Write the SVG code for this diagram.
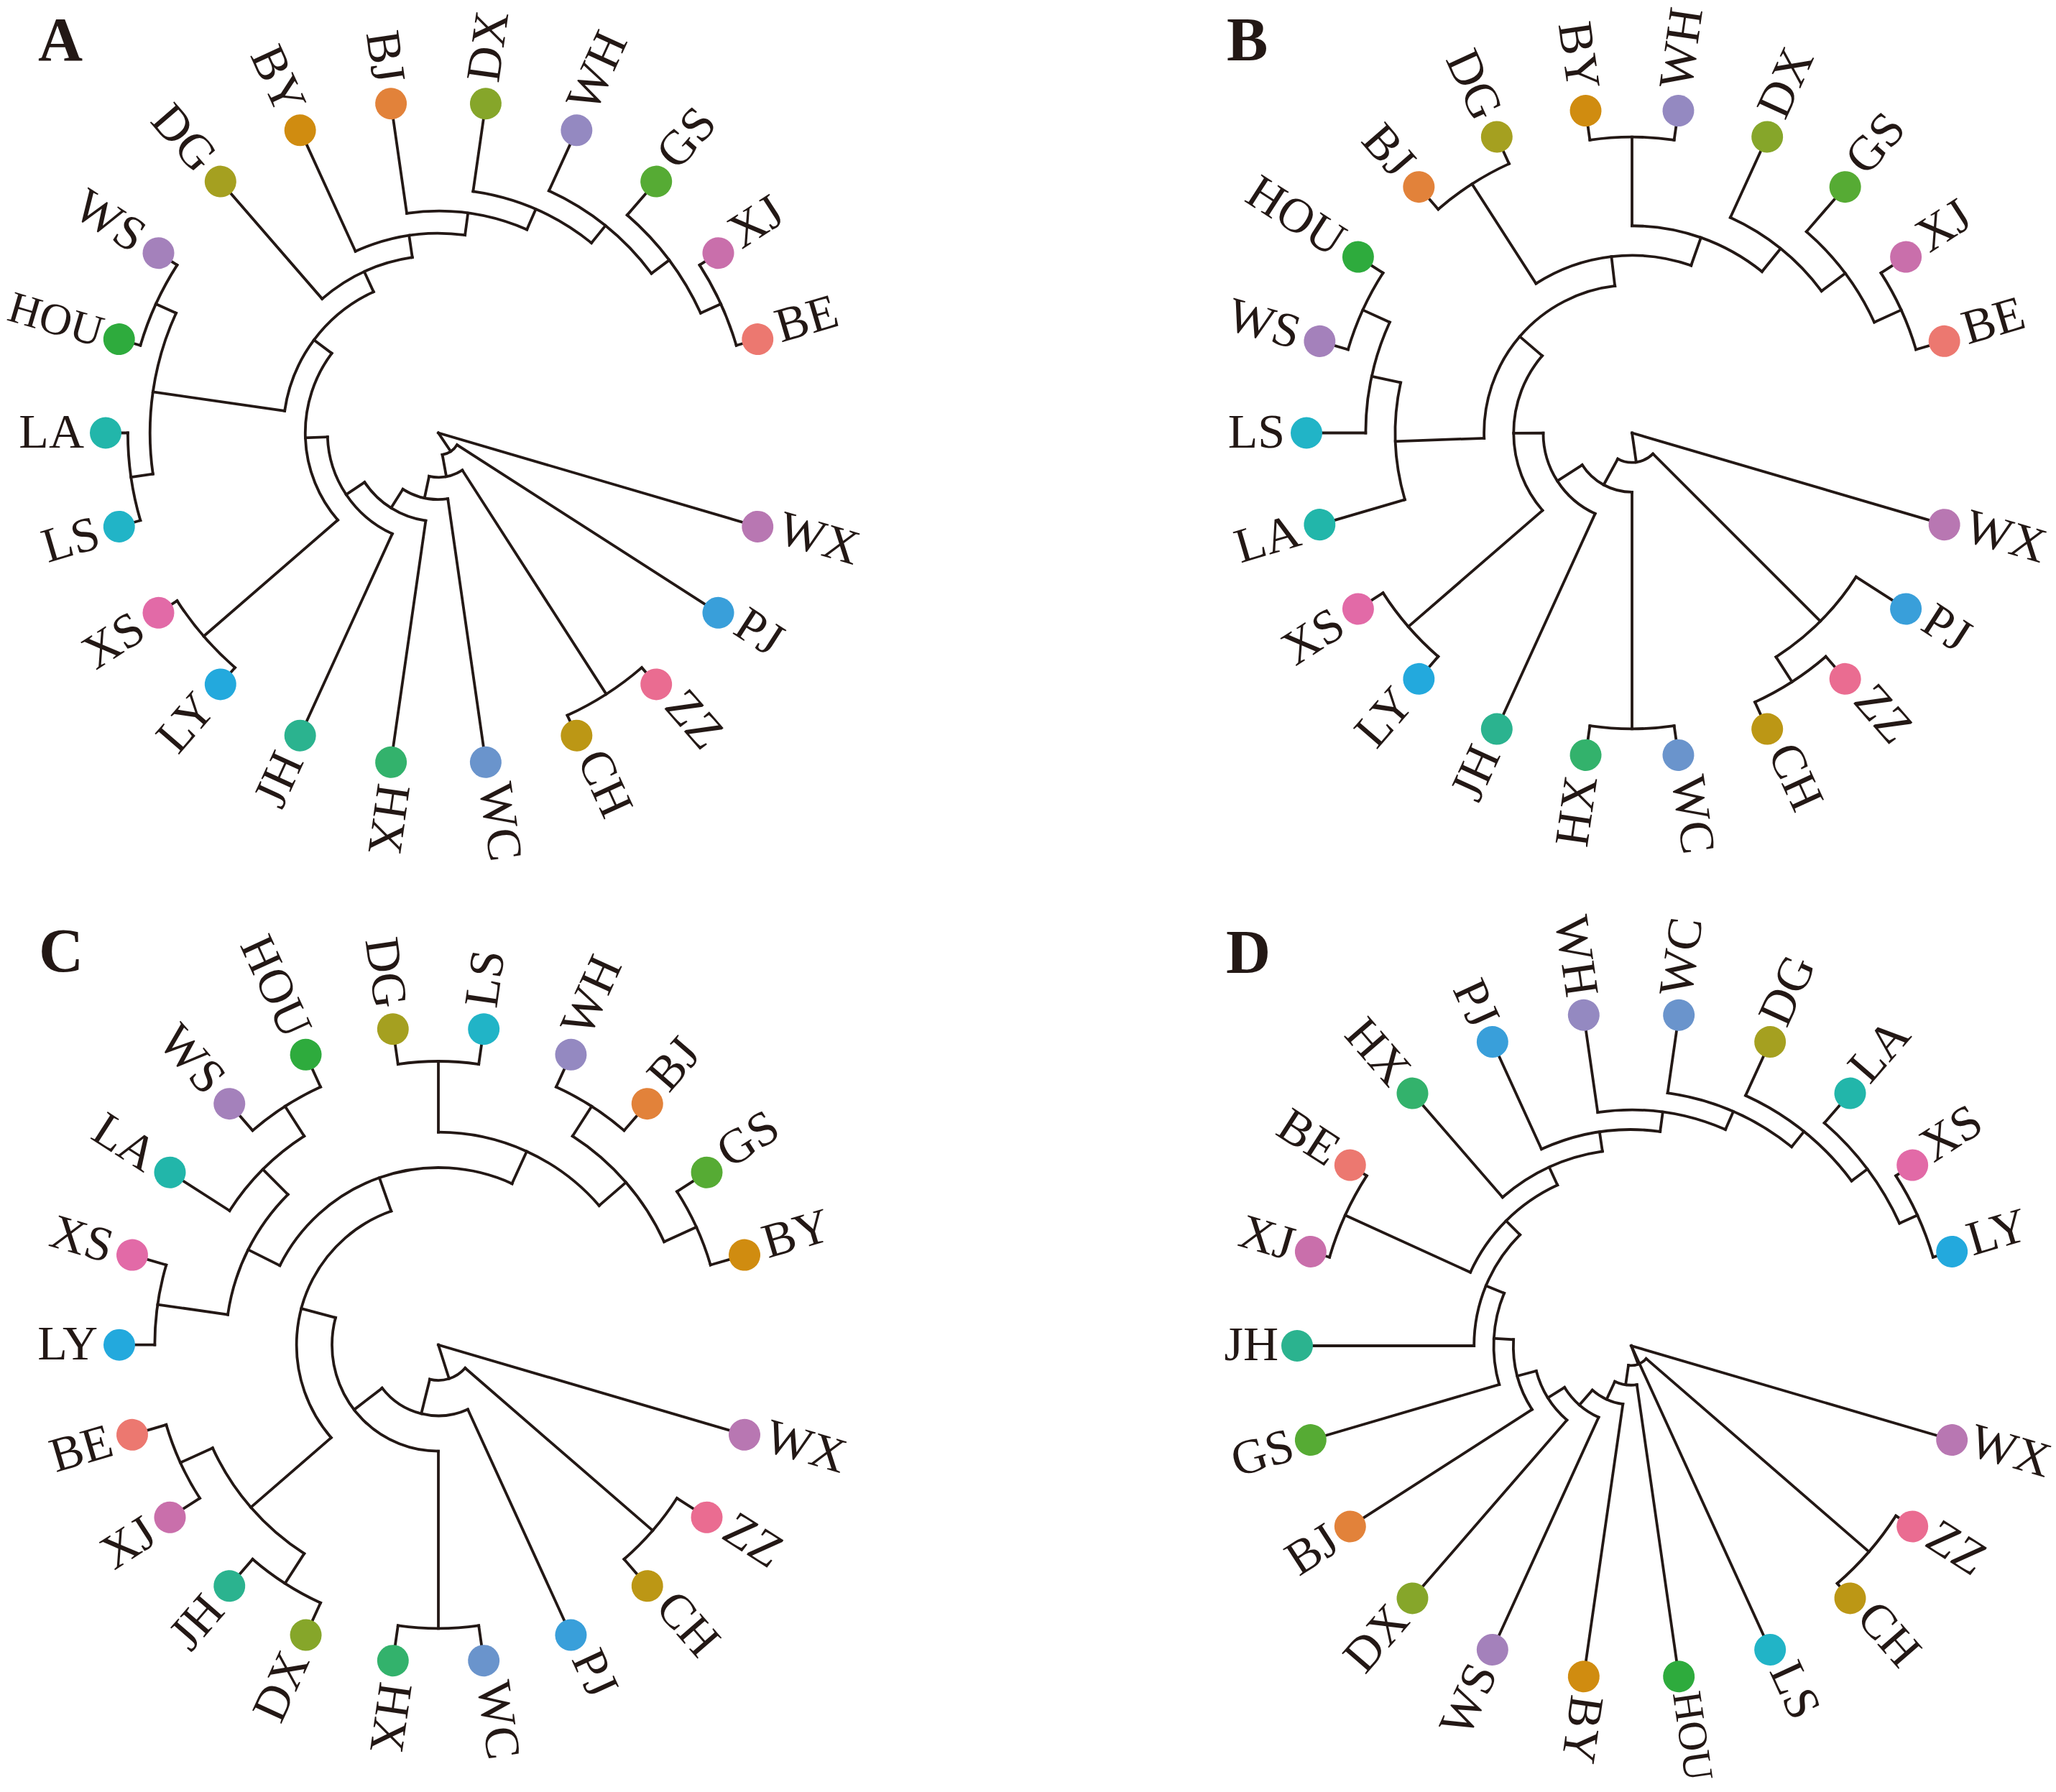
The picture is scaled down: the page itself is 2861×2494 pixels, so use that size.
<svg xmlns="http://www.w3.org/2000/svg" width="2861" height="2494" viewBox="0 0 2861 2494">
<style>
.edges line,.edges circle{fill:none;stroke:#231815;stroke-width:3.8;stroke-linecap:square}
.lbl{font-family:"Liberation Serif","Times New Roman",serif;font-size:68px;fill:#231815}
.e{text-anchor:end}
.ttl{font-family:"Liberation Serif","Times New Roman",serif;font-size:86px;font-weight:bold;fill:#231815}
.cBE{fill:#EC7870}.cXJ{fill:#C96FAB}.cGS{fill:#56AB34}.cWH{fill:#9489C1}.cDX{fill:#86A62A}.cBJ{fill:#E2823A}.cBY{fill:#D08C10}.cDG{fill:#A5A020}.cWS{fill:#A481BB}.cHOU{fill:#2EAB3D}.cLA{fill:#22B6AA}.cLS{fill:#21B4C7}.cXS{fill:#E26AA7}.cLY{fill:#23A9DD}.cJH{fill:#2BB38F}.cHX{fill:#33B26C}.cWC{fill:#6A94CC}.cCH{fill:#BC9715}.cZZ{fill:#EA6C91}.cPJ{fill:#399FDA}.cWX{fill:#B877B2}
</style>
<rect width="2861" height="2494" fill="#ffffff"/>
<text class="ttl" x="53" y="84">A</text>
<text class="ttl" x="1707" y="84">B</text>
<text class="ttl" x="54" y="1352">C</text>
<text class="ttl" x="1706" y="1354">D</text>

<g id="panel-A" transform="translate(610,602.5)">
<g id="A-connectors" class="edges">
<line x1="432.13" x2="463" transform="rotate(-16.364)"/>
<line x1="432.13" x2="463" transform="rotate(-32.727)"/>
<line x1="401.27" x2="432.13" transform="rotate(-24.545)"/>
<line x1="401.27" x2="463" transform="rotate(-49.091)"/>
<line x1="370.4" x2="401.27" transform="rotate(-36.818)"/>
<line x1="370.4" x2="463" transform="rotate(-65.455)"/>
<line x1="339.53" x2="370.4" transform="rotate(-51.136)"/>
<line x1="339.53" x2="463" transform="rotate(-81.818)"/>
<line x1="308.67" x2="339.53" transform="rotate(-66.477)"/>
<line x1="308.67" x2="463" transform="rotate(-98.182)"/>
<line x1="277.8" x2="308.67" transform="rotate(-82.330)"/>
<line x1="277.8" x2="463" transform="rotate(-114.545)"/>
<line x1="246.93" x2="277.8" transform="rotate(-98.437)"/>
<line x1="246.93" x2="463" transform="rotate(-130.909)"/>
<line x1="216.07" x2="246.93" transform="rotate(-114.673)"/>
<line x1="432.13" x2="463" transform="rotate(-147.273)"/>
<line x1="432.13" x2="463" transform="rotate(-163.636)"/>
<line x1="432.13" x2="463" transform="rotate(-180)"/>
<line x1="432.13" x2="463" transform="rotate(-196.364)"/>
<line x1="401.27" x2="432.13" transform="rotate(-155.455)"/>
<line x1="401.27" x2="432.13" transform="rotate(-188.182)"/>
<line x1="216.07" x2="401.27" transform="rotate(-171.818)"/>
<line x1="185.2" x2="216.07" transform="rotate(-143.245)"/>
<line x1="432.13" x2="463" transform="rotate(-212.727)"/>
<line x1="432.13" x2="463" transform="rotate(-229.091)"/>
<line x1="185.2" x2="432.13" transform="rotate(-220.909)"/>
<line x1="154.33" x2="185.2" transform="rotate(-182.077)"/>
<line x1="154.33" x2="463" transform="rotate(-245.455)"/>
<line x1="123.47" x2="154.33" transform="rotate(-213.766)"/>
<line x1="123.47" x2="463" transform="rotate(-261.818)"/>
<line x1="92.6" x2="123.47" transform="rotate(-237.792)"/>
<line x1="92.6" x2="463" transform="rotate(-278.182)"/>
<line x1="61.73" x2="92.6" transform="rotate(-257.987)"/>
<line x1="432.13" x2="463" transform="rotate(-294.545)"/>
<line x1="432.13" x2="463" transform="rotate(-310.909)"/>
<line x1="61.73" x2="432.13" transform="rotate(-302.727)"/>
<line x1="30.87" x2="61.73" transform="rotate(-280.357)"/>
<line x1="30.87" x2="463" transform="rotate(-327.273)"/>
<line x1="0" x2="30.87" transform="rotate(-303.815)"/>
<line x1="0" x2="463" transform="rotate(-343.636)"/>
<circle r="432.13" stroke-dasharray="123.42 9999" transform="rotate(-32.727)"/>
<circle r="401.27" stroke-dasharray="171.91 9999" transform="rotate(-49.091)"/>
<circle r="370.4" stroke-dasharray="185.13 9999" transform="rotate(-65.455)"/>
<circle r="339.53" stroke-dasharray="181.82 9999" transform="rotate(-81.818)"/>
<circle r="308.67" stroke-dasharray="170.81 9999" transform="rotate(-98.182)"/>
<circle r="277.8" stroke-dasharray="156.20 9999" transform="rotate(-114.545)"/>
<circle r="246.93" stroke-dasharray="139.94 9999" transform="rotate(-130.909)"/>
<circle r="432.13" stroke-dasharray="123.42 9999" transform="rotate(-163.636)"/>
<circle r="432.13" stroke-dasharray="123.42 9999" transform="rotate(-196.364)"/>
<circle r="401.27" stroke-dasharray="229.20 9999" transform="rotate(-188.182)"/>
<circle r="216.07" stroke-dasharray="215.50 9999" transform="rotate(-171.818)"/>
<circle r="432.13" stroke-dasharray="123.42 9999" transform="rotate(-229.091)"/>
<circle r="185.2" stroke-dasharray="251.04 9999" transform="rotate(-220.909)"/>
<circle r="154.33" stroke-dasharray="170.71 9999" transform="rotate(-245.455)"/>
<circle r="123.47" stroke-dasharray="103.55 9999" transform="rotate(-261.818)"/>
<circle r="92.6" stroke-dasharray="65.28 9999" transform="rotate(-278.182)"/>
<circle r="432.13" stroke-dasharray="123.42 9999" transform="rotate(-310.909)"/>
<circle r="61.73" stroke-dasharray="48.20 9999" transform="rotate(-302.727)"/>
<circle r="30.87" stroke-dasharray="25.28 9999" transform="rotate(-327.273)"/>
</g>
<g id="A-tips">
<g id="A-BE" transform="rotate(-16.364)"><circle class="cBE" cx="463" r="22"/><text class="lbl" x="493" dy="0.2em">BE</text></g>
<g id="A-XJ" transform="rotate(-32.727)"><circle class="cXJ" cx="463" r="22"/><text class="lbl" x="493" dy="0.2em">XJ</text></g>
<g id="A-GS" transform="rotate(-49.091)"><circle class="cGS" cx="463" r="22"/><text class="lbl" x="493" dy="0.2em">GS</text></g>
<g id="A-WH" transform="rotate(-65.455)"><circle class="cWH" cx="463" r="22"/><text class="lbl" x="493" dy="0.2em">WH</text></g>
<g id="A-DX" transform="rotate(-81.818)"><circle class="cDX" cx="463" r="22"/><text class="lbl" x="493" dy="0.2em">DX</text></g>
<g id="A-BJ" transform="rotate(-98.182)"><circle class="cBJ" cx="463" r="22"/><text class="lbl e" x="493" dy="0.3em" transform="rotate(180 493 0)">BJ</text></g>
<g id="A-BY" transform="rotate(-114.545)"><circle class="cBY" cx="463" r="22"/><text class="lbl e" x="493" dy="0.3em" transform="rotate(180 493 0)">BY</text></g>
<g id="A-DG" transform="rotate(-130.909)"><circle class="cDG" cx="463" r="22"/><text class="lbl e" x="493" dy="0.3em" transform="rotate(180 493 0)">DG</text></g>
<g id="A-WS" transform="rotate(-147.273)"><circle class="cWS" cx="463" r="22"/><text class="lbl e" x="493" dy="0.3em" transform="rotate(180 493 0)">WS</text></g>
<g id="A-HOU" transform="rotate(-163.636)"><circle class="cHOU" cx="463" r="22"/><text class="lbl e" x="488" dy="0.3em" style="font-size:62px" transform="rotate(180 488 0)">HOU</text></g>
<g id="A-LA" transform="rotate(-180)"><circle class="cLA" cx="463" r="22"/><text class="lbl e" x="493" dy="0.3em" transform="rotate(180 493 0)">LA</text></g>
<g id="A-LS" transform="rotate(-196.364)"><circle class="cLS" cx="463" r="22"/><text class="lbl e" x="493" dy="0.3em" transform="rotate(180 493 0)">LS</text></g>
<g id="A-XS" transform="rotate(-212.727)"><circle class="cXS" cx="463" r="22"/><text class="lbl e" x="493" dy="0.3em" transform="rotate(180 493 0)">XS</text></g>
<g id="A-LY" transform="rotate(-229.091)"><circle class="cLY" cx="463" r="22"/><text class="lbl e" x="493" dy="0.3em" transform="rotate(180 493 0)">LY</text></g>
<g id="A-JH" transform="rotate(-245.455)"><circle class="cJH" cx="463" r="22"/><text class="lbl e" x="493" dy="0.3em" transform="rotate(180 493 0)">JH</text></g>
<g id="A-HX" transform="rotate(-261.818)"><circle class="cHX" cx="463" r="22"/><text class="lbl" x="493" dy="0.2em">HX</text></g>
<g id="A-WC" transform="rotate(-278.182)"><circle class="cWC" cx="463" r="22"/><text class="lbl" x="493" dy="0.2em">WC</text></g>
<g id="A-CH" transform="rotate(-294.545)"><circle class="cCH" cx="463" r="22"/><text class="lbl" x="493" dy="0.2em">CH</text></g>
<g id="A-ZZ" transform="rotate(-310.909)"><circle class="cZZ" cx="463" r="22"/><text class="lbl" x="493" dy="0.2em">ZZ</text></g>
<g id="A-PJ" transform="rotate(-327.273)"><circle class="cPJ" cx="463" r="22"/><text class="lbl" x="493" dy="0.2em">PJ</text></g>
<g id="A-WX" transform="rotate(-343.636)"><circle class="cWX" cx="463" r="22"/><text class="lbl" x="493" dy="0.2em">WX</text></g>
</g>
</g>

<g id="panel-B" transform="translate(2271,602.5)">
<g id="B-connectors" class="edges">
<line x1="411.82" x2="453" transform="rotate(-16.364)"/>
<line x1="411.82" x2="453" transform="rotate(-32.727)"/>
<line x1="370.64" x2="411.82" transform="rotate(-24.545)"/>
<line x1="370.64" x2="453" transform="rotate(-49.091)"/>
<line x1="329.45" x2="370.64" transform="rotate(-36.818)"/>
<line x1="329.45" x2="453" transform="rotate(-65.455)"/>
<line x1="288.27" x2="329.45" transform="rotate(-51.136)"/>
<line x1="411.82" x2="453" transform="rotate(-81.818)"/>
<line x1="411.82" x2="453" transform="rotate(-98.182)"/>
<line x1="288.27" x2="411.82" transform="rotate(-90)"/>
<line x1="247.09" x2="288.27" transform="rotate(-70.568)"/>
<line x1="411.82" x2="453" transform="rotate(-114.545)"/>
<line x1="411.82" x2="453" transform="rotate(-130.909)"/>
<line x1="247.09" x2="411.82" transform="rotate(-122.727)"/>
<line x1="205.91" x2="247.09" transform="rotate(-96.648)"/>
<line x1="411.82" x2="453" transform="rotate(-147.273)"/>
<line x1="411.82" x2="453" transform="rotate(-163.636)"/>
<line x1="370.64" x2="411.82" transform="rotate(-155.455)"/>
<line x1="370.64" x2="453" transform="rotate(-180)"/>
<line x1="329.45" x2="370.64" transform="rotate(-167.727)"/>
<line x1="329.45" x2="453" transform="rotate(-196.364)"/>
<line x1="205.91" x2="329.45" transform="rotate(-182.045)"/>
<line x1="164.73" x2="205.91" transform="rotate(-139.347)"/>
<line x1="411.82" x2="453" transform="rotate(-212.727)"/>
<line x1="411.82" x2="453" transform="rotate(-229.091)"/>
<line x1="164.73" x2="411.82" transform="rotate(-220.909)"/>
<line x1="123.55" x2="164.73" transform="rotate(-180.128)"/>
<line x1="123.55" x2="453" transform="rotate(-245.455)"/>
<line x1="82.36" x2="123.55" transform="rotate(-212.791)"/>
<line x1="411.82" x2="453" transform="rotate(-261.818)"/>
<line x1="411.82" x2="453" transform="rotate(-278.182)"/>
<line x1="82.36" x2="411.82" transform="rotate(-270)"/>
<line x1="41.18" x2="82.36" transform="rotate(-241.396)"/>
<line x1="411.82" x2="453" transform="rotate(-294.545)"/>
<line x1="411.82" x2="453" transform="rotate(-310.909)"/>
<line x1="370.64" x2="411.82" transform="rotate(-302.727)"/>
<line x1="370.64" x2="453" transform="rotate(-327.273)"/>
<line x1="41.18" x2="370.64" transform="rotate(-315)"/>
<line x1="0" x2="41.18" transform="rotate(-278.198)"/>
<line x1="0" x2="453" transform="rotate(-343.636)"/>
<circle r="411.82" stroke-dasharray="117.62 9999" transform="rotate(-32.727)"/>
<circle r="370.64" stroke-dasharray="158.78 9999" transform="rotate(-49.091)"/>
<circle r="329.45" stroke-dasharray="164.66 9999" transform="rotate(-65.455)"/>
<circle r="411.82" stroke-dasharray="117.62 9999" transform="rotate(-98.182)"/>
<circle r="288.27" stroke-dasharray="195.53 9999" transform="rotate(-90)"/>
<circle r="411.82" stroke-dasharray="117.62 9999" transform="rotate(-130.909)"/>
<circle r="247.09" stroke-dasharray="224.94 9999" transform="rotate(-122.727)"/>
<circle r="411.82" stroke-dasharray="117.62 9999" transform="rotate(-163.636)"/>
<circle r="370.64" stroke-dasharray="158.78 9999" transform="rotate(-180)"/>
<circle r="329.45" stroke-dasharray="164.66 9999" transform="rotate(-196.364)"/>
<circle r="205.91" stroke-dasharray="306.90 9999" transform="rotate(-182.045)"/>
<circle r="411.82" stroke-dasharray="117.62 9999" transform="rotate(-229.091)"/>
<circle r="164.73" stroke-dasharray="234.50 9999" transform="rotate(-220.909)"/>
<circle r="123.55" stroke-dasharray="140.87 9999" transform="rotate(-245.455)"/>
<circle r="411.82" stroke-dasharray="117.62 9999" transform="rotate(-278.182)"/>
<circle r="82.36" stroke-dasharray="82.24 9999" transform="rotate(-270)"/>
<circle r="411.82" stroke-dasharray="117.62 9999" transform="rotate(-310.909)"/>
<circle r="370.64" stroke-dasharray="158.78 9999" transform="rotate(-327.273)"/>
<circle r="41.18" stroke-dasharray="52.90 9999" transform="rotate(-315)"/>
</g>
<g id="B-tips">
<g id="B-BE" transform="rotate(-16.364)"><circle class="cBE" cx="453" r="22"/><text class="lbl" x="483" dy="0.2em">BE</text></g>
<g id="B-XJ" transform="rotate(-32.727)"><circle class="cXJ" cx="453" r="22"/><text class="lbl" x="483" dy="0.2em">XJ</text></g>
<g id="B-GS" transform="rotate(-49.091)"><circle class="cGS" cx="453" r="22"/><text class="lbl" x="483" dy="0.2em">GS</text></g>
<g id="B-DX" transform="rotate(-65.455)"><circle class="cDX" cx="453" r="22"/><text class="lbl" x="483" dy="0.2em">DX</text></g>
<g id="B-WH" transform="rotate(-81.818)"><circle class="cWH" cx="453" r="22"/><text class="lbl" x="483" dy="0.2em">WH</text></g>
<g id="B-BY" transform="rotate(-98.182)"><circle class="cBY" cx="453" r="22"/><text class="lbl e" x="483" dy="0.3em" transform="rotate(180 483 0)">BY</text></g>
<g id="B-DG" transform="rotate(-114.545)"><circle class="cDG" cx="453" r="22"/><text class="lbl e" x="483" dy="0.3em" transform="rotate(180 483 0)">DG</text></g>
<g id="B-BJ" transform="rotate(-130.909)"><circle class="cBJ" cx="453" r="22"/><text class="lbl e" x="483" dy="0.3em" transform="rotate(180 483 0)">BJ</text></g>
<g id="B-HOU" transform="rotate(-147.273)"><circle class="cHOU" cx="453" r="22"/><text class="lbl e" x="483" dy="0.3em" transform="rotate(180 483 0)">HOU</text></g>
<g id="B-WS" transform="rotate(-163.636)"><circle class="cWS" cx="453" r="22"/><text class="lbl e" x="483" dy="0.3em" transform="rotate(180 483 0)">WS</text></g>
<g id="B-LS" transform="rotate(-180)"><circle class="cLS" cx="453" r="22"/><text class="lbl e" x="483" dy="0.3em" transform="rotate(180 483 0)">LS</text></g>
<g id="B-LA" transform="rotate(-196.364)"><circle class="cLA" cx="453" r="22"/><text class="lbl e" x="483" dy="0.3em" transform="rotate(180 483 0)">LA</text></g>
<g id="B-XS" transform="rotate(-212.727)"><circle class="cXS" cx="453" r="22"/><text class="lbl e" x="483" dy="0.3em" transform="rotate(180 483 0)">XS</text></g>
<g id="B-LY" transform="rotate(-229.091)"><circle class="cLY" cx="453" r="22"/><text class="lbl e" x="483" dy="0.3em" transform="rotate(180 483 0)">LY</text></g>
<g id="B-JH" transform="rotate(-245.455)"><circle class="cJH" cx="453" r="22"/><text class="lbl e" x="483" dy="0.3em" transform="rotate(180 483 0)">JH</text></g>
<g id="B-HX" transform="rotate(-261.818)"><circle class="cHX" cx="453" r="22"/><text class="lbl e" x="483" dy="0.3em" transform="rotate(180 483 0)">HX</text></g>
<g id="B-WC" transform="rotate(-278.182)"><circle class="cWC" cx="453" r="22"/><text class="lbl" x="483" dy="0.2em">WC</text></g>
<g id="B-CH" transform="rotate(-294.545)"><circle class="cCH" cx="453" r="22"/><text class="lbl" x="483" dy="0.2em">CH</text></g>
<g id="B-ZZ" transform="rotate(-310.909)"><circle class="cZZ" cx="453" r="22"/><text class="lbl" x="483" dy="0.2em">ZZ</text></g>
<g id="B-PJ" transform="rotate(-327.273)"><circle class="cPJ" cx="453" r="22"/><text class="lbl" x="483" dy="0.2em">PJ</text></g>
<g id="B-WX" transform="rotate(-343.636)"><circle class="cWX" cx="453" r="22"/><text class="lbl" x="483" dy="0.2em">WX</text></g>
</g>
</g>

<g id="panel-C" transform="translate(610,1871.7)">
<g id="C-connectors" class="edges">
<line x1="394.67" x2="444" transform="rotate(-16.364)"/>
<line x1="394.67" x2="444" transform="rotate(-32.727)"/>
<line x1="345.33" x2="394.67" transform="rotate(-24.545)"/>
<line x1="394.67" x2="444" transform="rotate(-49.091)"/>
<line x1="394.67" x2="444" transform="rotate(-65.455)"/>
<line x1="345.33" x2="394.67" transform="rotate(-57.273)"/>
<line x1="296" x2="345.33" transform="rotate(-40.909)"/>
<line x1="394.67" x2="444" transform="rotate(-81.818)"/>
<line x1="394.67" x2="444" transform="rotate(-98.182)"/>
<line x1="296" x2="394.67" transform="rotate(-90)"/>
<line x1="246.67" x2="296" transform="rotate(-65.455)"/>
<line x1="394.67" x2="444" transform="rotate(-114.545)"/>
<line x1="394.67" x2="444" transform="rotate(-130.909)"/>
<line x1="345.33" x2="394.67" transform="rotate(-122.727)"/>
<line x1="345.33" x2="444" transform="rotate(-147.273)"/>
<line x1="296" x2="345.33" transform="rotate(-135)"/>
<line x1="394.67" x2="444" transform="rotate(-163.636)"/>
<line x1="394.67" x2="444" transform="rotate(-180)"/>
<line x1="296" x2="394.67" transform="rotate(-171.818)"/>
<line x1="246.67" x2="296" transform="rotate(-153.409)"/>
<line x1="197.33" x2="246.67" transform="rotate(-109.432)"/>
<line x1="394.67" x2="444" transform="rotate(-196.364)"/>
<line x1="394.67" x2="444" transform="rotate(-212.727)"/>
<line x1="345.33" x2="394.67" transform="rotate(-204.545)"/>
<line x1="394.67" x2="444" transform="rotate(-229.091)"/>
<line x1="394.67" x2="444" transform="rotate(-245.455)"/>
<line x1="345.33" x2="394.67" transform="rotate(-237.273)"/>
<line x1="197.33" x2="345.33" transform="rotate(-220.909)"/>
<line x1="148" x2="197.33" transform="rotate(-165.170)"/>
<line x1="394.67" x2="444" transform="rotate(-261.818)"/>
<line x1="394.67" x2="444" transform="rotate(-278.182)"/>
<line x1="148" x2="394.67" transform="rotate(-270)"/>
<line x1="98.67" x2="148" transform="rotate(-217.585)"/>
<line x1="98.67" x2="444" transform="rotate(-294.545)"/>
<line x1="49.33" x2="98.67" transform="rotate(-256.065)"/>
<line x1="394.67" x2="444" transform="rotate(-310.909)"/>
<line x1="394.67" x2="444" transform="rotate(-327.273)"/>
<line x1="49.33" x2="394.67" transform="rotate(-319.091)"/>
<line x1="0" x2="49.33" transform="rotate(-287.578)"/>
<line x1="0" x2="444" transform="rotate(-343.636)"/>
<circle r="394.67" stroke-dasharray="112.72 9999" transform="rotate(-32.727)"/>
<circle r="394.67" stroke-dasharray="112.72 9999" transform="rotate(-65.455)"/>
<circle r="345.33" stroke-dasharray="197.26 9999" transform="rotate(-57.273)"/>
<circle r="394.67" stroke-dasharray="112.72 9999" transform="rotate(-98.182)"/>
<circle r="296" stroke-dasharray="253.61 9999" transform="rotate(-90)"/>
<circle r="394.67" stroke-dasharray="112.72 9999" transform="rotate(-130.909)"/>
<circle r="345.33" stroke-dasharray="147.94 9999" transform="rotate(-147.273)"/>
<circle r="394.67" stroke-dasharray="112.72 9999" transform="rotate(-180)"/>
<circle r="296" stroke-dasharray="190.21 9999" transform="rotate(-171.818)"/>
<circle r="246.67" stroke-dasharray="378.66 9999" transform="rotate(-153.409)"/>
<circle r="394.67" stroke-dasharray="112.72 9999" transform="rotate(-212.727)"/>
<circle r="394.67" stroke-dasharray="112.72 9999" transform="rotate(-245.455)"/>
<circle r="345.33" stroke-dasharray="197.26 9999" transform="rotate(-237.273)"/>
<circle r="197.33" stroke-dasharray="383.93 9999" transform="rotate(-220.909)"/>
<circle r="394.67" stroke-dasharray="112.72 9999" transform="rotate(-278.182)"/>
<circle r="148" stroke-dasharray="270.79 9999" transform="rotate(-270)"/>
<circle r="98.67" stroke-dasharray="132.53 9999" transform="rotate(-294.545)"/>
<circle r="394.67" stroke-dasharray="112.72 9999" transform="rotate(-327.273)"/>
<circle r="49.33" stroke-dasharray="54.27 9999" transform="rotate(-319.091)"/>
</g>
<g id="C-tips">
<g id="C-BY" transform="rotate(-16.364)"><circle class="cBY" cx="444" r="22"/><text class="lbl" x="474" dy="0.2em">BY</text></g>
<g id="C-GS" transform="rotate(-32.727)"><circle class="cGS" cx="444" r="22"/><text class="lbl" x="474" dy="0.2em">GS</text></g>
<g id="C-BJ" transform="rotate(-49.091)"><circle class="cBJ" cx="444" r="22"/><text class="lbl" x="474" dy="0.2em">BJ</text></g>
<g id="C-WH" transform="rotate(-65.455)"><circle class="cWH" cx="444" r="22"/><text class="lbl" x="474" dy="0.2em">WH</text></g>
<g id="C-LS" transform="rotate(-81.818)"><circle class="cLS" cx="444" r="22"/><text class="lbl" x="474" dy="0.2em">LS</text></g>
<g id="C-DG" transform="rotate(-98.182)"><circle class="cDG" cx="444" r="22"/><text class="lbl e" x="474" dy="0.3em" transform="rotate(180 474 0)">DG</text></g>
<g id="C-HOU" transform="rotate(-114.545)"><circle class="cHOU" cx="444" r="22"/><text class="lbl e" x="474" dy="0.3em" transform="rotate(180 474 0)">HOU</text></g>
<g id="C-WS" transform="rotate(-130.909)"><circle class="cWS" cx="444" r="22"/><text class="lbl e" x="474" dy="0.3em" transform="rotate(180 474 0)">WS</text></g>
<g id="C-LA" transform="rotate(-147.273)"><circle class="cLA" cx="444" r="22"/><text class="lbl e" x="474" dy="0.3em" transform="rotate(180 474 0)">LA</text></g>
<g id="C-XS" transform="rotate(-163.636)"><circle class="cXS" cx="444" r="22"/><text class="lbl e" x="474" dy="0.3em" transform="rotate(180 474 0)">XS</text></g>
<g id="C-LY" transform="rotate(-180)"><circle class="cLY" cx="444" r="22"/><text class="lbl e" x="474" dy="0.3em" transform="rotate(180 474 0)">LY</text></g>
<g id="C-BE" transform="rotate(-196.364)"><circle class="cBE" cx="444" r="22"/><text class="lbl e" x="474" dy="0.3em" transform="rotate(180 474 0)">BE</text></g>
<g id="C-XJ" transform="rotate(-212.727)"><circle class="cXJ" cx="444" r="22"/><text class="lbl e" x="474" dy="0.3em" transform="rotate(180 474 0)">XJ</text></g>
<g id="C-JH" transform="rotate(-229.091)"><circle class="cJH" cx="444" r="22"/><text class="lbl e" x="474" dy="0.3em" transform="rotate(180 474 0)">JH</text></g>
<g id="C-DX" transform="rotate(-245.455)"><circle class="cDX" cx="444" r="22"/><text class="lbl e" x="474" dy="0.3em" transform="rotate(180 474 0)">DX</text></g>
<g id="C-HX" transform="rotate(-261.818)"><circle class="cHX" cx="444" r="22"/><text class="lbl" x="474" dy="0.2em">HX</text></g>
<g id="C-WC" transform="rotate(-278.182)"><circle class="cWC" cx="444" r="22"/><text class="lbl" x="474" dy="0.2em">WC</text></g>
<g id="C-PJ" transform="rotate(-294.545)"><circle class="cPJ" cx="444" r="22"/><text class="lbl" x="474" dy="0.2em">PJ</text></g>
<g id="C-CH" transform="rotate(-310.909)"><circle class="cCH" cx="444" r="22"/><text class="lbl" x="474" dy="0.2em">CH</text></g>
<g id="C-ZZ" transform="rotate(-327.273)"><circle class="cZZ" cx="444" r="22"/><text class="lbl" x="474" dy="0.2em">ZZ</text></g>
<g id="C-WX" transform="rotate(-343.636)"><circle class="cWX" cx="444" r="22"/><text class="lbl" x="474" dy="0.2em">WX</text></g>
</g>
</g>

<g id="panel-D" transform="translate(2270,1873)">
<g id="D-connectors" class="edges">
<line x1="437.65" x2="465" transform="rotate(-16.364)"/>
<line x1="437.65" x2="465" transform="rotate(-32.727)"/>
<line x1="410.29" x2="437.65" transform="rotate(-24.545)"/>
<line x1="410.29" x2="465" transform="rotate(-49.091)"/>
<line x1="382.94" x2="410.29" transform="rotate(-36.818)"/>
<line x1="382.94" x2="465" transform="rotate(-65.455)"/>
<line x1="355.59" x2="382.94" transform="rotate(-51.136)"/>
<line x1="355.59" x2="465" transform="rotate(-81.818)"/>
<line x1="328.24" x2="355.59" transform="rotate(-66.477)"/>
<line x1="328.24" x2="465" transform="rotate(-98.182)"/>
<line x1="300.88" x2="328.24" transform="rotate(-82.330)"/>
<line x1="300.88" x2="465" transform="rotate(-114.545)"/>
<line x1="273.53" x2="300.88" transform="rotate(-98.437)"/>
<line x1="273.53" x2="465" transform="rotate(-130.909)"/>
<line x1="246.18" x2="273.53" transform="rotate(-114.673)"/>
<line x1="437.65" x2="465" transform="rotate(-147.273)"/>
<line x1="437.65" x2="465" transform="rotate(-163.636)"/>
<line x1="246.18" x2="437.65" transform="rotate(-155.455)"/>
<line x1="218.82" x2="246.18" transform="rotate(-135.064)"/>
<line x1="218.82" x2="465" transform="rotate(-180)"/>
<line x1="191.47" x2="218.82" transform="rotate(-157.532)"/>
<line x1="191.47" x2="465" transform="rotate(-196.364)"/>
<line x1="164.12" x2="191.47" transform="rotate(-176.948)"/>
<line x1="164.12" x2="465" transform="rotate(-212.727)"/>
<line x1="136.76" x2="164.12" transform="rotate(-194.838)"/>
<line x1="136.76" x2="465" transform="rotate(-229.091)"/>
<line x1="109.41" x2="136.76" transform="rotate(-211.964)"/>
<line x1="109.41" x2="465" transform="rotate(-245.455)"/>
<line x1="82.06" x2="109.41" transform="rotate(-228.710)"/>
<line x1="82.06" x2="465" transform="rotate(-261.818)"/>
<line x1="54.71" x2="82.06" transform="rotate(-245.264)"/>
<line x1="54.71" x2="465" transform="rotate(-278.182)"/>
<line x1="27.35" x2="54.71" transform="rotate(-261.723)"/>
<line x1="437.65" x2="465" transform="rotate(-310.909)"/>
<line x1="437.65" x2="465" transform="rotate(-327.273)"/>
<line x1="27.35" x2="437.65" transform="rotate(-319.091)"/>
<line x1="0" x2="27.35" transform="rotate(-290.407)"/>
<line x1="0" x2="465" transform="rotate(-294.545)"/>
<line x1="0" x2="465" transform="rotate(-343.636)"/>
<circle r="437.65" stroke-dasharray="124.99 9999" transform="rotate(-32.727)"/>
<circle r="410.29" stroke-dasharray="175.77 9999" transform="rotate(-49.091)"/>
<circle r="382.94" stroke-dasharray="191.40 9999" transform="rotate(-65.455)"/>
<circle r="355.59" stroke-dasharray="190.42 9999" transform="rotate(-81.818)"/>
<circle r="328.24" stroke-dasharray="181.64 9999" transform="rotate(-98.182)"/>
<circle r="300.88" stroke-dasharray="169.17 9999" transform="rotate(-114.545)"/>
<circle r="273.53" stroke-dasharray="155.02 9999" transform="rotate(-130.909)"/>
<circle r="437.65" stroke-dasharray="124.99 9999" transform="rotate(-163.636)"/>
<circle r="246.18" stroke-dasharray="175.22 9999" transform="rotate(-155.455)"/>
<circle r="218.82" stroke-dasharray="171.62 9999" transform="rotate(-180)"/>
<circle r="191.47" stroke-dasharray="129.77 9999" transform="rotate(-196.364)"/>
<circle r="164.12" stroke-dasharray="102.49 9999" transform="rotate(-212.727)"/>
<circle r="136.76" stroke-dasharray="81.76 9999" transform="rotate(-229.091)"/>
<circle r="109.41" stroke-dasharray="63.95 9999" transform="rotate(-245.455)"/>
<circle r="82.06" stroke-dasharray="47.42 9999" transform="rotate(-261.818)"/>
<circle r="54.71" stroke-dasharray="31.43 9999" transform="rotate(-278.182)"/>
<circle r="437.65" stroke-dasharray="124.99 9999" transform="rotate(-327.273)"/>
<circle r="27.35" stroke-dasharray="27.38 9999" transform="rotate(-319.091)"/>
</g>
<g id="D-tips">
<g id="D-LY" transform="rotate(-16.364)"><circle class="cLY" cx="465" r="22"/><text class="lbl" x="491" dy="0.2em">LY</text></g>
<g id="D-XS" transform="rotate(-32.727)"><circle class="cXS" cx="465" r="22"/><text class="lbl" x="491" dy="0.2em">XS</text></g>
<g id="D-LA" transform="rotate(-49.091)"><circle class="cLA" cx="465" r="22"/><text class="lbl" x="491" dy="0.2em">LA</text></g>
<g id="D-DG" transform="rotate(-65.455)"><circle class="cDG" cx="465" r="22"/><text class="lbl" x="491" dy="0.2em">DG</text></g>
<g id="D-WC" transform="rotate(-81.818)"><circle class="cWC" cx="465" r="22"/><text class="lbl" x="491" dy="0.2em">WC</text></g>
<g id="D-WH" transform="rotate(-98.182)"><circle class="cWH" cx="465" r="22"/><text class="lbl e" x="491" dy="0.3em" transform="rotate(180 491 0)">WH</text></g>
<g id="D-PJ" transform="rotate(-114.545)"><circle class="cPJ" cx="465" r="22"/><text class="lbl e" x="491" dy="0.3em" transform="rotate(180 491 0)">PJ</text></g>
<g id="D-HX" transform="rotate(-130.909)"><circle class="cHX" cx="465" r="22"/><text class="lbl e" x="491" dy="0.3em" transform="rotate(180 491 0)">HX</text></g>
<g id="D-BE" transform="rotate(-147.273)"><circle class="cBE" cx="465" r="22"/><text class="lbl e" x="491" dy="0.3em" transform="rotate(180 491 0)">BE</text></g>
<g id="D-XJ" transform="rotate(-163.636)"><circle class="cXJ" cx="465" r="22"/><text class="lbl e" x="491" dy="0.3em" transform="rotate(180 491 0)">XJ</text></g>
<g id="D-JH" transform="rotate(-180)"><circle class="cJH" cx="465" r="22"/><text class="lbl e" x="491" dy="0.3em" transform="rotate(180 491 0)">JH</text></g>
<g id="D-GS" transform="rotate(-196.364)"><circle class="cGS" cx="465" r="22"/><text class="lbl e" x="491" dy="0.3em" transform="rotate(180 491 0)">GS</text></g>
<g id="D-BJ" transform="rotate(-212.727)"><circle class="cBJ" cx="465" r="22"/><text class="lbl e" x="491" dy="0.3em" transform="rotate(180 491 0)">BJ</text></g>
<g id="D-DX" transform="rotate(-229.091)"><circle class="cDX" cx="465" r="22"/><text class="lbl e" x="491" dy="0.3em" transform="rotate(180 491 0)">DX</text></g>
<g id="D-WS" transform="rotate(-245.455)"><circle class="cWS" cx="465" r="22"/><text class="lbl e" x="491" dy="0.3em" transform="rotate(180 491 0)">WS</text></g>
<g id="D-BY" transform="rotate(-261.818)"><circle class="cBY" cx="465" r="22"/><text class="lbl" x="491" dy="0.2em">BY</text></g>
<g id="D-HOU" transform="rotate(-278.182)"><circle class="cHOU" cx="465" r="22"/><text class="lbl" x="487" dy="0.2em" style="font-size:58px">HOU</text></g>
<g id="D-LS" transform="rotate(-294.545)"><circle class="cLS" cx="465" r="22"/><text class="lbl" x="491" dy="0.2em">LS</text></g>
<g id="D-CH" transform="rotate(-310.909)"><circle class="cCH" cx="465" r="22"/><text class="lbl" x="491" dy="0.2em">CH</text></g>
<g id="D-ZZ" transform="rotate(-327.273)"><circle class="cZZ" cx="465" r="22"/><text class="lbl" x="491" dy="0.2em">ZZ</text></g>
<g id="D-WX" transform="rotate(-343.636)"><circle class="cWX" cx="465" r="22"/><text class="lbl" x="491" dy="0.2em">WX</text></g>
</g>
</g>
</svg>
